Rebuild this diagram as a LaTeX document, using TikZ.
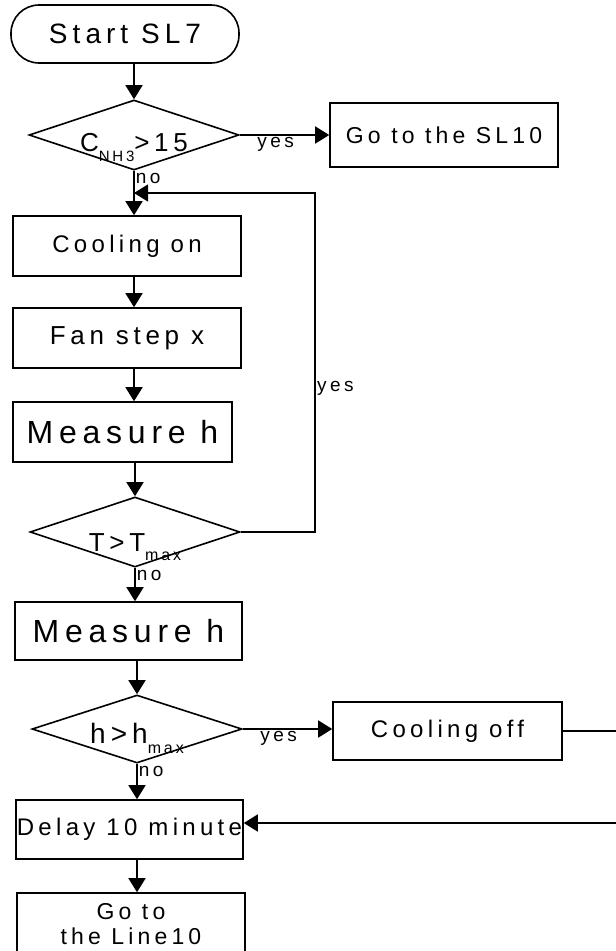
\documentclass[tikz,border=0pt]{standalone}
\usepackage{fontspec}
\setmainfont{Liberation Sans}[LetterSpace=18]
\usetikzlibrary{arrows.meta,shapes.geometric,positioning}
\tikzset{
  flowbox/.style={draw,line width=1.6pt,inner sep=0pt,minimum width=228pt,
    minimum height=60pt,font=\fontsize{24}{26}\selectfont},
  startbox/.style={flowbox,rounded corners=28pt,font=\fontsize{28}{30}\selectfont},
  decision/.style={draw,diamond,aspect=3,line width=1.6pt,inner sep=0pt,
    minimum width=210pt,minimum height=70pt},
  cond/.style={anchor=base,inner sep=0pt,font=\fontsize{26}{28}\selectfont},
  flow/.style={-{Triangle[length=14pt,width=17pt]},line width=1.6pt},
  answer/.style={font=\fontsize{19}{20}\selectfont,inner sep=1pt},
}
\newcommand{\subtxt}[1]{\raisebox{-.7ex}{\fontsize{16}{16}\selectfont #1}}

\begin{document}
\begin{tikzpicture}[x=1pt,y=-1pt]
  \useasboundingbox (0,0) rectangle (616,951);

  % main column
  \node[startbox,minimum height=58pt] (start) at (125,34) {Start SL7};
  \node[decision] (nh3) at (134,135) {};
  \node[cond] (nh3txt) at ([yshift=-16pt]nh3.center) {C\raisebox{-.8ex}{\fontsize{15}{15}\selectfont NH3}>15};
  \node[flowbox,minimum height=64pt,font=\fontsize{23}{25}\selectfont] (gosl) at (444,135) {Go to the SL10};
  \node[flowbox] (coolon) at (127,246) {Cooling on};
  \node[flowbox,font=\fontsize{26}{28}\selectfont] (fan) at (127,338) {Fan step x};
  \node[flowbox,minimum width=219pt,font=\fontsize{32}{34}\selectfont] (meas1) at (122.5,432) {Measure h};
  \node[decision] (tmax) at (135,532) {};
  \node[cond] (tmaxtxt) at ([yshift=-19pt]tmax.center) {T>T\subtxt{max}};
  \node[flowbox,minimum width=227pt,minimum height=58pt,font=\fontsize{32}{34}\selectfont] (meas2) at (128.5,631) {Measure h};
  \node[decision,minimum height=68pt] (hmax) at (137,729) {};
  \node[cond,font=\fontsize{28}{30}\selectfont] (hmaxtxt) at ([yshift=-14pt]hmax.center) {h>h\subtxt{max}};
  \node[flowbox,minimum width=229pt,minimum height=58pt] (cooloff) at (447.5,731) {Cooling off};
  \node[flowbox,minimum width=227pt,minimum height=59pt,font=\fontsize{24}{26}\selectfont] (delay) at (129.5,829.5) {Delay 10 minute};
  \node[flowbox,minimum height=62pt,align=center,font=\fontsize{23}{25}\selectfont] (goline) at (131,924) {Go to\\the Line10};

  % connectors
  \draw[flow] (nh3.north |- start.south) -- (nh3.north);
  \draw[flow] (nh3.east) -- (gosl.west)
    node[answer,below,pos=.4] (yes1) {yes};
  \draw[flow] (nh3.south) -- (nh3.south |- coolon.north)
    node[answer,pos=0,anchor=north west,yshift=-1pt] (no1) {no};
  \draw[flow] (coolon.south -| nh3.south) -- (fan.north -| nh3.south);
  \draw[flow] (fan.south -| nh3.south) -- (meas1.north -| nh3.south);
  \draw[flow] (meas1.south -| tmax.north) -- (tmax.north);
  \draw[flow] (tmax.south) -- (tmax.south |- meas2.north)
    node[answer,pos=0,anchor=north west,yshift=-1pt] (no2) {no};
  \draw[flow] (meas2.south -| hmax.north) -- (hmax.north);
  \draw[flow] (hmax.east) -- (hmax.east -| cooloff.west)
    node[answer,below,pos=.4] (yes3) {yes};
  \draw[flow] (hmax.south) -- (hmax.south |- delay.north)
    node[answer,pos=0,anchor=north west,yshift=-1pt] (no3) {no};
  \draw[flow] (delay.south -| hmax.south) -- (goline.north -| hmax.south);

  % loop back while T > Tmax
  \coordinate (fbjoin) at (134,193);
  \coordinate (fbcorner) at (315,193);
  \draw[flow,line width=1.2pt] (tmax.east) -| (fbcorner) -- (fbjoin);
  \node[answer,anchor=west] (yes2) at (316,388) {yes};

  % lines leaving the page on the right
  \coordinate (rimA) at (616,731);
  \coordinate (rimB) at (616,823);
  \draw[line width=1.6pt] (cooloff.east) -- (rimA);
  \draw[flow] (rimB) -- (rimB -| delay.east);
\end{tikzpicture}
\end{document}
